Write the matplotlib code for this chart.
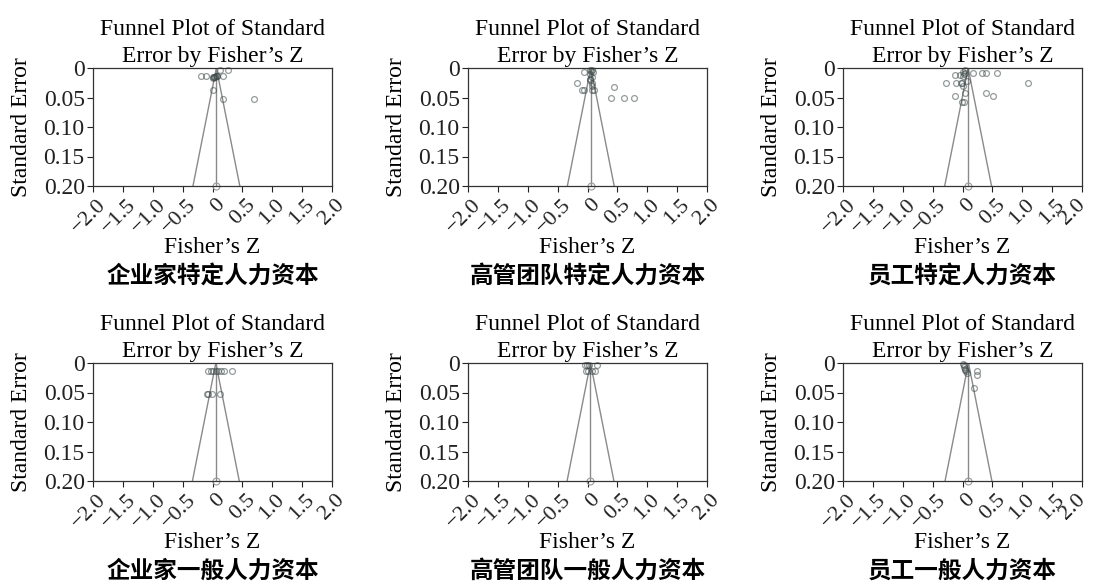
"""Funnel plots of standard error by Fisher's Z for six human-capital groups."""
import matplotlib
matplotlib.use("Agg")
import matplotlib.pyplot as plt
import matplotlib.transforms as mtransforms

plt.rcParams["font.family"] = ["Liberation Serif", "Noto Sans CJK SC"]
plt.rcParams["font.size"] = 17

# Panel names (Chinese captions), in reading order.
names = ["企业家特定人力资本", "高管团队特定人力资本", "员工特定人力资本",
         "企业家一般人力资本", "高管团队一般人力资本", "员工一般人力资本"]

# Pooled Fisher's Z estimate per panel.
means = [0.065, 0.055, 0.094, 0.056, 0.05, 0.10]

# Study points: Fisher's Z and standard error.
z1 = [-0.20, -0.11, 0.0, 0.02, 0.04, 0.06, 0.08, 0.07, 0.13, 0.26, 0.18,
      0.0, 0.17, 0.70, 0.01, 0.03]
se1 = [0.013, 0.013, 0.016, 0.015, 0.015, 0.014, 0.014, 0.013, 0.004, 0.004,
       0.013, 0.037, 0.052, 0.052, 0.017, 0.016]

z2 = [0.04, 0.06, 0.08, 0.1, 0.05, 0.07, -0.06, -0.18, -0.09, -0.06, 0.08,
      0.11, 0.45, 0.39, 0.61, 0.77, 0.07, 0.07, 0.05, 0.04]
se2 = [0.003, 0.005, 0.004, 0.006, 0.01, 0.015, 0.006, 0.025, 0.037, 0.037,
       0.037, 0.037, 0.033, 0.05, 0.05, 0.05, 0.026, 0.031, 0.02, 0.018]

z3 = [-0.12, -0.045, -0.27, -0.11, -0.03, 0.0, -0.01, 0.07, 0.18, 0.32, 0.39,
      0.57, 1.10, -0.12, 0.39, 0.51, 0.04, -0.01, 0.02, 0.0, 0.02, 0.04,
      0.05, 0.01]
se3 = [0.012, 0.012, 0.026, 0.026, 0.026, 0.03, 0.025, 0.022, 0.008, 0.008,
       0.008, 0.008, 0.026, 0.047, 0.042, 0.047, 0.042, 0.058, 0.058, 0.006,
       0.010, 0.008, 0.004, 0.014]

z4 = [-0.07, -0.03, 0.01, 0.06, 0.09, 0.14, 0.20, 0.32, -0.10, -0.08, -0.01,
      0.13]
se4 = [0.013, 0.013, 0.013, 0.013, 0.013, 0.013, 0.013, 0.013, 0.052, 0.052,
       0.052, 0.052]

z5 = [-0.04, -0.01, 0.03, 0.16, -0.03, 0.01, 0.08, 0.12]
se5 = [0.004, 0.004, 0.004, 0.004, 0.013, 0.013, 0.013, 0.013]

z6 = [0.0, 0.02, 0.04, 0.06, 0.08, 0.03, 0.05, 0.24, 0.24, 0.19]
se6 = [0.002, 0.006, 0.010, 0.014, 0.017, 0.003, 0.012, 0.013, 0.020, 0.042]

zs = [z1, z2, z3, z4, z5, z6]
ses = [se1, se2, se3, se4, se5, se6]

x_ticks = [-2.0, -1.5, -1.0, -0.5, 0, 0.5, 1.0, 1.5, 2.0]
x_tick_labels = ["\u22122.0", "\u22121.5", "\u22121.0", "\u22120.5", "0",
                 "0.5", "1.0", "1.5", "2.0"]
y_ticks = [0, 0.05, 0.10, 0.15, 0.20]
y_tick_labels = ["0", "0.05", "0.10", "0.15", "0.20"]

W, H = 1093, 586
fig = plt.figure(figsize=(W / 100, H / 100), dpi=100)

col_left = [93, 468, 843]
row_top = [68, 363]
ax_w, ax_h = 239, 118

for i in range(6):
    r, c = divmod(i, 3)
    ax = fig.add_axes([col_left[c] / W, 1 - (row_top[r] + ax_h) / H,
                       ax_w / W, ax_h / H])
    m = means[i]
    se_max = 0.2
    # Funnel (95% limits) and pooled estimate line.
    ax.plot([m - 1.96 * se_max, m, m + 1.96 * se_max], [se_max, 0, se_max],
            color="#8a8a8a", lw=1.0)
    ax.plot([m, m], [0, se_max], color="#8a8a8a", lw=1.0)
    ax.plot(zs[i], ses[i], "o", ms=4.2, mfc="none", mec="#3f4a4a", mew=0.9,
            alpha=0.55, clip_on=False)
    ax.plot([m], [se_max], marker="o", ms=5, mfc="none", mec="#9a9a9a",
            mew=0.8, clip_on=False)
    ax.set_xlim(-2.0, 2.0)
    ax.set_ylim(0.2, 0)
    ax.set_xticks(x_ticks)
    ax.set_xticklabels(x_tick_labels, rotation=45, ha="center", fontsize=16)
    ax.set_yticks(y_ticks)
    ax.set_yticklabels(y_tick_labels)
    ax.tick_params(direction="out", length=4, width=0.8, pad=2,
                   colors="#222222")
    ax.tick_params(axis="x", pad=3)
    # Nudge the rotated labels (after tick_params, which resets transforms).
    for lab, v in zip(ax.get_xticklabels(), x_ticks):
        dx = -4 if v < 0 else (5 if v == 0 else 0)
        if c == 2 and v == 2.0:
            dx = -9  # keep the last label inside the figure
        lab.set_transform(lab.get_transform() + mtransforms.ScaledTranslation(
            dx / 100, 0, fig.dpi_scale_trans))
    for sp in ax.spines.values():
        sp.set_color("#333333")
        sp.set_linewidth(0.9)
    ax.set_title("Funnel Plot of Standard\nError by Fisher\u2019s Z",
                 fontsize=17, pad=4, linespacing=1.4)
    ax.set_ylabel("Standard Error", labelpad=8)
    ax.text(0.5, -0.525, "Fisher\u2019s Z", transform=ax.transAxes,
            ha="center", va="center")
    ax.text(0.5, -0.76, names[i], transform=ax.transAxes, ha="center",
            va="center", fontweight="bold",
            family=["Noto Sans CJK SC", "DejaVu Sans"])

fig.savefig("out.png", dpi=100)
